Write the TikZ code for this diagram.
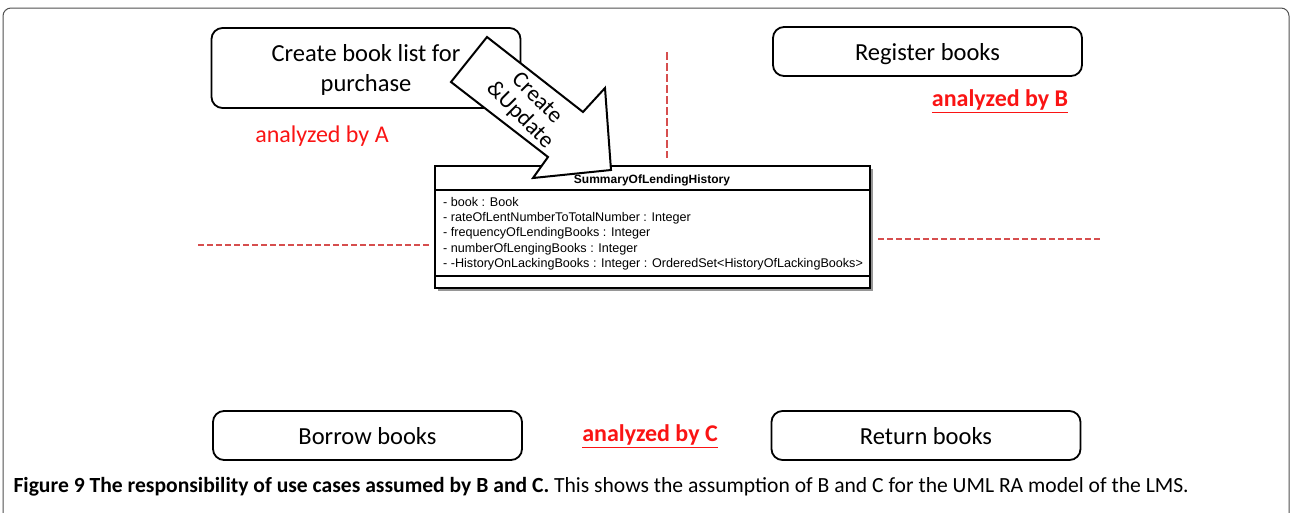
\documentclass[tikz,border=0pt]{standalone}
\usepackage{fontspec}
\setmainfont{Carlito}
\newfontfamily\umlfont{Liberation Sans}
\usepackage{tikz}
\usetikzlibrary{calc}
\definecolor{TagRed} {RGB}{250,20,20}
\definecolor{SepRed} {RGB}{214,78,78}
\definecolor{ShadowG}{RGB}{150,150,150}
\definecolor{FrameG} {RGB}{80,80,80}
\tikzset{
  nd_uc/.style={
    rectangle, rounded corners=11pt,
    draw=black, line width=1.8pt, fill=white,
    minimum width=309pt, minimum height=49pt, text depth=0pt,
    align=center, font=\fontsize{24.5}{29.5}\selectfont},
  nd_tag/.style={
    text=TagRed, font=\fontsize{24}{28}\selectfont},
  nd_tagb/.style={
    text=TagRed, font=\fontsize{24}{28}\selectfont\bfseries},
  nd_attr/.style={
    anchor=north west, align=left, inner sep=0pt,
    font=\umlfont\fontsize{12.6}{15.3}\selectfont},
  sep/.style={SepRed, line width=2.6pt, dash pattern=on 6pt off 3pt},
  cls/.style={draw=black, line width=1.6pt, fill=white},
}
\begin{document}
\begin{tikzpicture}[x=1pt,y=-1pt]
\useasboundingbox (0,0) rectangle (1291,512);

%% figure frame
\draw[FrameG,line width=1pt,rounded corners=8pt]
  (3,520) -- (3,8) -- (1289,8) -- (1289,520);

%% separators
\draw[sep] (198,245) -- (430,245);
\draw[sep] (878,239) -- (1102,239);
\draw[sep,dash pattern=on 8pt off 3pt] (667,52) -- (667,158);

%% use cases
\node[nd_uc,minimum height=80pt] at (366,68)  (UA){Create book list for\\purchase};
\node[nd_uc] at (927.5,51.5) (UB){Register books};
\node[nd_uc] at (367.5,435.5) (UC1){Borrow books};
\node[nd_uc] at (926,435.5)  (UC2){Return books};

%% who analyzed what
\node[nd_tag]  at (322,136)  (TA){analyzed by A};
\node[nd_tagb] at (1000,101) (TB){\underline{analyzed by B}};
\node[nd_tagb] at (650,436)  (TC){\underline{analyzed by C}};

%% class box
\fill[ShadowG] (438,169) rectangle (873,291);
\draw[cls] (435,166) rectangle (870,288);
\draw[line width=1.2pt] (435,190) -- (870,190);
\draw[line width=1.2pt] (435,276) -- (870,276);
\node[font=\umlfont\bfseries\fontsize{12}{14}\selectfont] at (652,180) (SH){SummaryOfLendingHistory};
\node[nd_attr] at (443,197) (AT){%
  - book : Book\\
  - rateOfLentNumberToTotalNumber : Integer\\
  - frequencyOfLendingBooks : Integer\\
  - numberOfLengingBooks : Integer\\
  - -HistoryOnLackingBooks : Integer : OrderedSet<HistoryOfLackingBooks>};

%% block arrow
\draw[line width=2pt,fill=white,line join=miter]
  (487,37) -- (583,112) -- (605,88) -- (611,170)
  -- (533,178) -- (548,157) -- (451,82) -- cycle;
\node[rotate=-45,align=center,inner sep=0pt,font=\fontsize{23}{24}\selectfont]
  at (528,107) (CU){Create\\\&Update};

%% caption
\node[anchor=west,font=\fontsize{21.6}{24}\selectfont] at (10,487) (CAP)
  {\textbf{Figure 9 The responsibility of use cases assumed by B and C.} This shows the assumption of B and C for the UML RA model of the LMS.};

\end{tikzpicture}
\end{document}
